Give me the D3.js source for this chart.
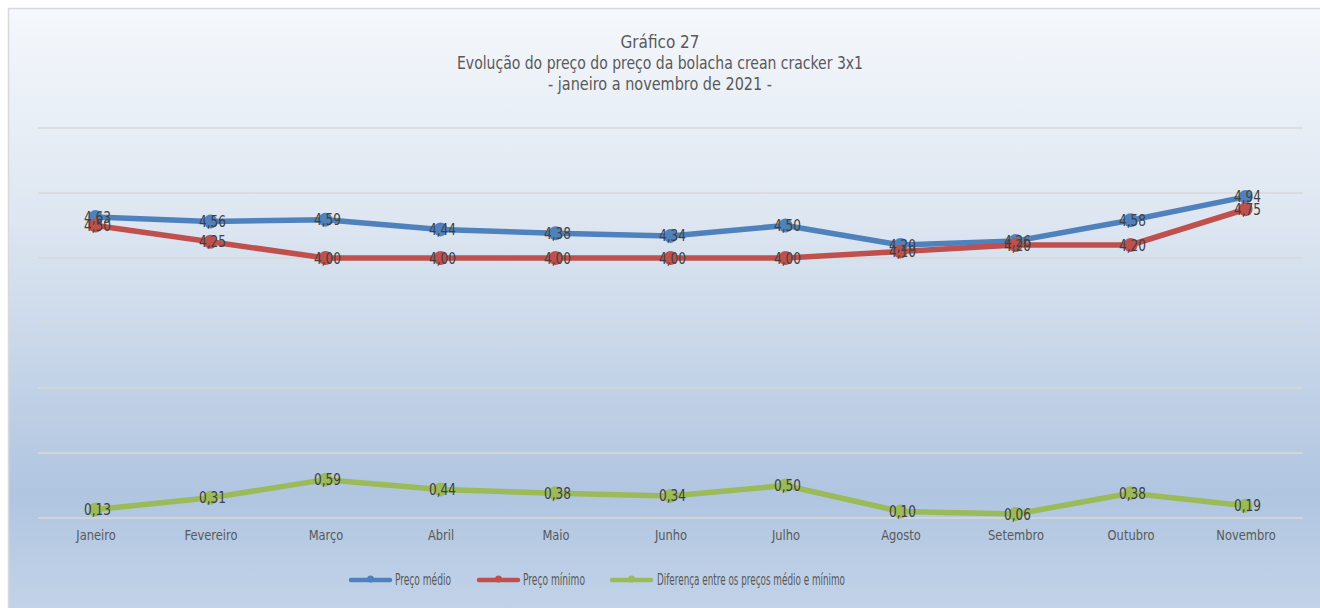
<!DOCTYPE html>
<html><head><meta charset="utf-8">
<script src="https://cdn.jsdelivr.net/npm/d3@7"></script>
<style>
html,body{margin:0;padding:0;background:#fff;}
svg{display:block;}
text{font-family:"Liberation Sans Narrow","Arial Narrow","DejaVu Sans Condensed",sans-serif;}
</style></head><body>
<script>
const categories = ["Janeiro","Fevereiro","Março","Abril","Maio","Junho","Julho","Agosto","Setembro","Outubro","Novembro"];
const precoMedio = [4.63,4.56,4.59,4.44,4.38,4.34,4.50,4.20,4.26,4.58,4.94];
const precoMinimo = [4.50,4.25,4.00,4.00,4.00,4.00,4.00,4.10,4.20,4.20,4.75];
const diferenca = [0.13,0.31,0.59,0.44,0.38,0.34,0.50,0.10,0.06,0.38,0.19];
const yTicks = [0,1,2,3,4,5,6];
const seriesNames = ["Preço médio","Preço mínimo","Diferença entre os preços médio e mínimo"];
const titleLines = ["Gráfico 27","Evolução do preço do preço da bolacha crean cracker 3x1","- janeiro a novembro de 2021 -"];
const colors = ["#4f81bd","#c0504d","#9bbb59"];

const W=1320,H=608;
const svg=d3.select("body").append("svg").attr("width",W).attr("height",H);
const defs=svg.append("defs");
const g=defs.append("linearGradient").attr("id","bg").attr("x1",0).attr("y1",0).attr("x2",0).attr("y2",1);
[["0%","#f5f8fc"],["35%","#dde6f1"],["80%","#b0c5e0"],["100%","#c3d4e9"]].forEach(s=>g.append("stop").attr("offset",s[0]).attr("stop-color",s[1]));
svg.append("rect").attr("x",8.5).attr("y",8.5).attr("width",W).attr("height",H).attr("fill","url(#bg)").attr("stroke","#d9d9d9").attr("stroke-width",1.5);

const x=d3.scalePoint().domain(categories).range([38,1303]).padding(0.5);
const y=d3.scaleLinear().domain([0,6]).range([518,128]);

svg.append("g").selectAll("line").data(yTicks).join("line")
  .attr("x1",38).attr("x2",1303).attr("y1",d=>y(d)).attr("y2",d=>y(d))
  .attr("stroke","#d9d9d9").attr("stroke-width",1.5);

const xAxis=svg.append("g").attr("transform","translate(0,518)").call(d3.axisBottom(x).tickSize(0).tickPadding(12));
xAxis.select(".domain").remove();
xAxis.selectAll("text").attr("fill","#595959").attr("font-size",14.5)
  .style("font-family",'"Liberation Sans Narrow","Arial Narrow","DejaVu Sans Condensed",sans-serif')
  .each(function(){const w=this.getComputedTextLength(); d3.select(this).attr("textLength",w*0.88).attr("lengthAdjust","spacingAndGlyphs");});

const tW=[79,406,224];
titleLines.forEach((l,i)=>svg.append("text").attr("text-anchor","middle").attr("fill","#595959").attr("font-size",17.5)
  .attr("x",660).attr("y",48+i*21).attr("textLength",tW[i]).attr("lengthAdjust","spacingAndGlyphs").text(l));

const series=[precoMedio,precoMinimo,diferenca];
const line=d3.line().x((d,i)=>x(categories[i])).y(d=>y(d));
series.forEach((s,k)=>{
  svg.append("path").datum(s).attr("d",line).attr("fill","none").attr("stroke",colors[k]).attr("stroke-width",5.5).attr("stroke-linejoin","round").attr("stroke-linecap","round");
  svg.append("g").selectAll("circle").data(s).join("circle").attr("cx",(d,i)=>x(categories[i])).attr("cy",d=>y(d)).attr("r",7).attr("fill",colors[k]);
});
const fmt=d=>d.toFixed(2).replace(".",",");
series.forEach((s,k)=>{
  svg.append("g").selectAll("text").data(s).join("text").attr("x",(d,i)=>x(categories[i])+2).attr("y",d=>y(d)+5.5)
   .attr("text-anchor","middle").attr("fill","#404040").attr("font-size",16)
   .attr("textLength",27).attr("lengthAdjust","spacingAndGlyphs").text(fmt);
});

const leg=[{x:349,tx:395,w:56},{x:477,tx:523,w:62},{x:610,tx:657,w:188}];
leg.forEach((l,k)=>{
  const gg=svg.append("g");
  gg.append("line").attr("x1",l.x+2).attr("x2",l.x+41).attr("y1",580).attr("y2",580).attr("stroke",colors[k]).attr("stroke-width",4.5).attr("stroke-linecap","round");
  gg.append("circle").attr("cx",l.x+21.5).attr("cy",579).attr("r",3.5).attr("fill",colors[k]);
  gg.append("text").attr("x",l.tx).attr("y",585).attr("fill","#595959").attr("font-size",16)
    .attr("textLength",l.w).attr("lengthAdjust","spacingAndGlyphs").text(seriesNames[k]);
});
</script></body></html>
